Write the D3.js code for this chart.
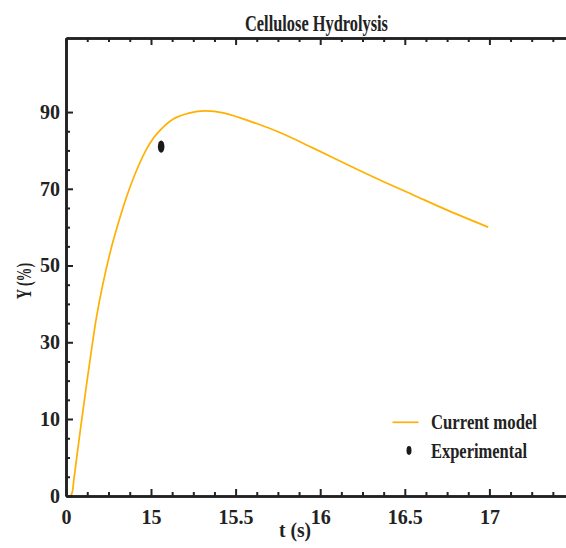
<!DOCTYPE html>
<html>
<head>
<meta charset="utf-8">
<script src="https://cdn.jsdelivr.net/npm/d3@7"></script>
<style>
  body { margin: 0; background: #fff; }
  text { font-family: "Liberation Serif", "Times New Roman", serif; font-weight: bold; fill: #222; }
</style>
</head>
<body>
<script>
// model curve (t in s, Y in %)
var tModel = [0, 0.88, 1.41, 2.03, 2.82, 3.62, 4.45, 5.35, 6.44, 7.89, 9.18, 10.71, 12.48, 14.24,
  15.034, 15.132, 15.23, 15.319, 15.427, 15.624, 15.762, 15.959, 16.156, 16.353, 16.55, 16.747, 16.993];
var yModel = [0, 0.1, 2.3, 5.8, 10.3, 18.9, 27.5, 36.3, 44.7, 54.0, 60.8, 68.0, 74.9, 80.4,
  84.3, 88.2, 89.8, 90.3, 89.8, 87.0, 84.65, 80.6, 76.4, 72.3, 68.4, 64.5, 60.0];

// experimental point
var tExp = [15.06];
var yExp = [81];

var xTicks = [0, 15, 15.5, 16, 16.5, 17];
var yTicks = [0, 10, 30, 50, 70, 90];

var svgWidth = 566, svgHeight = 548;
var svg = d3.select('body').append('svg')
    .attr('width', svgWidth)
    .attr('height', svgHeight);

// broken axes: 0 sits right at the corner
var x = d3.scaleLinear().domain([0, 15, 17.5]).range([66, 151, 574]);
var y = d3.scaleLinear().domain([0, 10, 109.3]).range([496, 419, 38]);

var xMinor = [3.75, 7.5, 11.25].concat(d3.range(15, 17.5, 0.125).filter(function(v) { return Math.abs(v * 2 - Math.round(v * 2)) > 1e-6; }));
var yMinor = [2.5, 5, 7.5].concat(d3.range(10, 90, 5).filter(function(v) { return (v - 10) % 20 != 0; }));

svg.append('clipPath').attr('id', 'clip')
  .append('rect').attr('x', 66).attr('y', 38).attr('width', 508).attr('height', 458);

// model line
var line = d3.line()
    .x(function(d, i) { return x(tModel[i]); })
    .y(function(d, i) { return y(yModel[i]); })
    .curve(d3.curveCatmullRom.alpha(0.5));

svg.append('path')
    .datum(tModel)
    .attr('clip-path', 'url(#clip)')
    .attr('d', line)
    .attr('fill', 'none')
    .attr('stroke', '#FFB000')
    .attr('stroke-width', 1.7);

svg.selectAll('.exp')
    .data(tExp)
  .enter().append('ellipse')
    .attr('cx', function(d) { return x(d); })
    .attr('cy', function(d, i) { return y(yExp[i]); })
    .attr('rx', 3.3)
    .attr('ry', 6.2)
    .attr('fill', '#1a1a1a');

// axes
var fmt = function(d) { return String(d); };

function styleAxis(g) {
  g.select('.domain').attr('stroke', '#222').attr('stroke-width', 2.6);
  g.selectAll('.tick line').attr('stroke', '#222').attr('stroke-width', 2);
  g.selectAll('.tick text').attr('fill', '#222').style('font-size', '20px')
    .style('font-family', '"Liberation Serif", serif').style('font-weight', 'bold');
}

svg.append('g')
    .attr('transform', 'translate(0,496)')
    .call(d3.axisBottom(x).tickValues(xTicks).tickFormat(fmt).tickSizeInner(-7).tickSizeOuter(0).tickPadding(14))
    .call(styleAxis);
svg.append('g')
    .attr('transform', 'translate(0,496)')
    .call(d3.axisBottom(x).tickValues(xMinor).tickSizeInner(-4).tickSizeOuter(0).tickFormat(''))
    .call(styleAxis);

svg.append('g')
    .attr('transform', 'translate(0,38)')
    .call(d3.axisTop(x).tickValues(xTicks).tickSizeInner(-7).tickSizeOuter(0).tickFormat(''))
    .call(styleAxis);
svg.append('g')
    .attr('transform', 'translate(0,38)')
    .call(d3.axisTop(x).tickValues(xMinor).tickSizeInner(-4).tickSizeOuter(0).tickFormat(''))
    .call(styleAxis);

svg.append('g')
    .attr('transform', 'translate(66,0)')
    .call(d3.axisLeft(y).tickValues(yTicks).tickFormat(fmt).tickSizeInner(-7).tickSizeOuter(0).tickPadding(6))
    .call(styleAxis);
svg.append('g')
    .attr('transform', 'translate(66,0)')
    .call(d3.axisLeft(y).tickValues(yMinor).tickSizeInner(-4).tickSizeOuter(0).tickFormat(''))
    .call(styleAxis);

// titles
svg.append('text')
    .attr('x', 316.5).attr('y', 30.5)
    .attr('text-anchor', 'middle')
    .attr('textLength', 143).attr('lengthAdjust', 'spacingAndGlyphs')
    .style('font-size', '23px')
    .text('Cellulose Hydrolysis');

svg.append('text')
    .attr('x', 295).attr('y', 537)
    .attr('text-anchor', 'middle')
    .attr('textLength', 32).attr('lengthAdjust', 'spacingAndGlyphs')
    .style('font-size', '21px')
    .text('t (s)');

svg.append('text')
    .attr('transform', 'translate(31,281) rotate(-90)')
    .attr('text-anchor', 'middle')
    .attr('textLength', 36).attr('lengthAdjust', 'spacingAndGlyphs')
    .style('font-size', '21px')
    .text('Y (%)');

// legend
svg.append('line')
    .attr('x1', 392.5).attr('x2', 418.5)
    .attr('y1', 422.3).attr('y2', 422.3)
    .attr('stroke', '#FFB000').attr('stroke-width', 1.7);
svg.append('text')
    .attr('x', 431).attr('y', 429)
    .attr('textLength', 106).attr('lengthAdjust', 'spacingAndGlyphs')
    .style('font-size', '21px')
    .text('Current model');

svg.append('ellipse')
    .attr('cx', 409).attr('cy', 450.5)
    .attr('rx', 2.5).attr('ry', 4.4)
    .attr('fill', '#1a1a1a');
svg.append('text')
    .attr('x', 431).attr('y', 458.3)
    .attr('textLength', 96).attr('lengthAdjust', 'spacingAndGlyphs')
    .style('font-size', '21px')
    .text('Experimental');
</script>
</body>
</html>
